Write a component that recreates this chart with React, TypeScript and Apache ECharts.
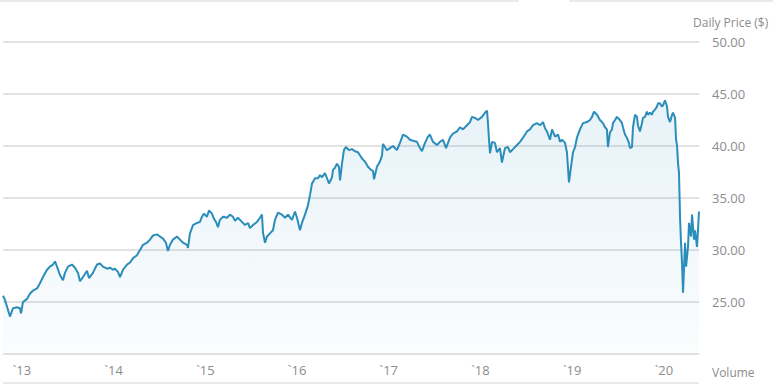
import React, { useEffect, useRef } from "react";
import * as echarts from "echarts";

// Time as decimal years
const dates = [
  2012.793, 2012.815, 2012.869, 2012.902, 2012.945, 2012.978, 2012.989, 2013.011, 2013.055, 2013.087,
  2013.120, 2013.164, 2013.196, 2013.229, 2013.273, 2013.305, 2013.338, 2013.360, 2013.382, 2013.414,
  2013.447, 2013.469, 2013.502, 2013.545, 2013.578, 2013.611, 2013.632, 2013.665, 2013.709, 2013.731,
  2013.774, 2013.818, 2013.851, 2013.883, 2013.927, 2013.960, 2013.992, 2014.014, 2014.047, 2014.069,
  2014.101, 2014.145, 2014.178, 2014.210, 2014.254, 2014.287, 2014.320, 2014.363, 2014.396, 2014.429,
  2014.472, 2014.505, 2014.538, 2014.570, 2014.592, 2014.614, 2014.647, 2014.690, 2014.723, 2014.756,
  2014.799, 2014.810, 2014.832, 2014.865, 2014.908, 2014.941, 2014.963, 2014.985, 2015.017, 2015.039,
  2015.072, 2015.094, 2015.116, 2015.137, 2015.159, 2015.192, 2015.236, 2015.268, 2015.301, 2015.323,
  2015.355, 2015.399, 2015.432, 2015.465, 2015.486, 2015.519, 2015.563, 2015.595, 2015.617, 2015.628,
  2015.650, 2015.672, 2015.704, 2015.737, 2015.759, 2015.792, 2015.835, 2015.868, 2015.901, 2015.944,
  2015.977, 2015.999, 2016.032, 2016.053, 2016.086, 2016.108, 2016.119, 2016.141, 2016.163, 2016.195,
  2016.228, 2016.250, 2016.272, 2016.304, 2016.326, 2016.348, 2016.381, 2016.392, 2016.413, 2016.435,
  2016.457, 2016.468, 2016.490, 2016.511, 2016.533, 2016.566, 2016.599, 2016.631, 2016.664, 2016.708,
  2016.740, 2016.773, 2016.806, 2016.828, 2016.839, 2016.871, 2016.904, 2016.926, 2016.937, 2016.980,
  2017.013, 2017.046, 2017.089, 2017.122, 2017.155, 2017.198, 2017.231, 2017.264, 2017.307, 2017.340,
  2017.362, 2017.395, 2017.427, 2017.449, 2017.482, 2017.526, 2017.558, 2017.591, 2017.624, 2017.646,
  2017.667, 2017.700, 2017.744, 2017.777, 2017.809, 2017.853, 2017.886, 2017.907, 2017.940, 2017.973,
  2018.016, 2018.049, 2018.071, 2018.082, 2018.093, 2018.104, 2018.126, 2018.158, 2018.180, 2018.213,
  2018.234, 2018.267, 2018.300, 2018.322, 2018.355, 2018.398, 2018.431, 2018.464, 2018.507, 2018.540,
  2018.573, 2018.616, 2018.649, 2018.682, 2018.704, 2018.725, 2018.758, 2018.780, 2018.813, 2018.846,
  2018.867, 2018.889, 2018.922, 2018.943, 2018.965, 2018.987, 2019.009, 2019.031, 2019.052, 2019.085,
  2019.118, 2019.161, 2019.194, 2019.216, 2019.238, 2019.271, 2019.303, 2019.336, 2019.358, 2019.379,
  2019.390, 2019.412, 2019.434, 2019.445, 2019.467, 2019.488, 2019.499, 2019.521, 2019.543, 2019.554,
  2019.576, 2019.597, 2019.619, 2019.630, 2019.652, 2019.663, 2019.685, 2019.707, 2019.717, 2019.739,
  2019.761, 2019.772, 2019.794, 2019.815, 2019.826, 2019.848, 2019.870, 2019.881, 2019.903, 2019.925,
  2019.936, 2019.957, 2019.979, 2019.990, 2020.012, 2020.034, 2020.045, 2020.067, 2020.089, 2020.100,
  2020.122, 2020.133, 2020.143, 2020.154, 2020.165, 2020.176, 2020.187, 2020.198, 2020.209, 2020.220,
  2020.231, 2020.242, 2020.263, 2020.274, 2020.296, 2020.307, 2020.329, 2020.340, 2020.361, 2020.372,
  2020.383,
];

const prices = [
  25.6, 25.2, 23.6, 24.4, 24.5, 24.4, 23.9, 25.0, 25.3, 25.8,
  26.1, 26.3, 26.8, 27.4, 28.1, 28.4, 28.6, 28.9, 28.4, 27.6,
  27.1, 27.8, 28.4, 28.6, 28.3, 27.8, 27.0, 27.4, 28.0, 27.3,
  27.8, 28.6, 28.7, 28.4, 28.2, 28.3, 28.1, 28.2, 27.9, 27.4,
  28.1, 28.6, 28.8, 29.2, 29.5, 30.0, 30.5, 30.7, 31.0, 31.4,
  31.5, 31.3, 31.1, 30.7, 29.9, 30.5, 31.0, 31.3, 31.0, 30.7,
  30.5, 30.2, 31.6, 32.4, 32.6, 32.7, 33.2, 33.5, 33.2, 33.8,
  33.5, 33.0, 32.7, 32.2, 32.9, 33.2, 33.1, 33.4, 33.2, 32.8,
  33.1, 32.7, 32.4, 32.6, 32.1, 32.4, 32.7, 33.1, 33.4, 31.7,
  30.7, 31.3, 31.6, 31.9, 32.9, 33.6, 33.4, 33.1, 33.4, 32.9,
  33.7, 33.1, 31.9, 32.6, 33.4, 34.0, 34.3, 35.3, 36.4, 36.9,
  36.9, 37.2, 37.0, 37.4, 36.9, 36.4, 37.0, 37.7, 37.9, 38.3,
  38.0, 36.7, 38.3, 39.6, 39.9, 39.6, 39.7, 39.5, 39.4, 38.8,
  38.5, 38.0, 37.7, 37.6, 36.8, 38.0, 38.5, 39.1, 40.2, 39.6,
  39.8, 40.0, 39.6, 40.3, 41.1, 40.9, 40.6, 40.5, 40.4, 39.8,
  39.5, 40.3, 40.9, 41.1, 40.4, 40.1, 40.4, 40.6, 39.8, 40.3,
  40.8, 41.2, 41.4, 41.8, 41.6, 42.0, 42.3, 42.8, 42.7, 42.5,
  42.8, 43.2, 43.4, 42.2, 40.6, 39.3, 40.4, 40.3, 39.4, 39.8,
  38.4, 39.8, 39.9, 39.4, 39.7, 40.1, 40.4, 40.8, 41.4, 41.6,
  42.0, 42.2, 42.0, 42.3, 41.7, 41.4, 40.6, 41.6, 40.9, 41.1,
  40.4, 40.6, 40.3, 39.4, 36.5, 38.0, 39.4, 39.9, 40.8, 41.6,
  42.2, 42.3, 42.5, 42.8, 43.3, 43.0, 42.5, 42.2, 41.8, 41.6,
  39.9, 41.3, 41.6, 42.2, 42.5, 42.8, 42.7, 42.5, 42.2, 41.8,
  41.1, 40.8, 40.3, 39.8, 39.9, 41.8, 43.0, 42.8, 42.0, 41.4,
  42.2, 42.7, 42.8, 43.3, 43.0, 43.2, 43.0, 43.3, 43.5, 43.8,
  44.1, 44.1, 43.8, 43.9, 44.4, 43.8, 42.8, 42.3, 43.0, 43.2,
  42.7, 40.6, 40.1, 38.4, 37.4, 33.2, 30.7, 28.7, 25.9, 28.4,
  30.7, 28.4, 30.3, 32.6, 31.3, 33.4, 31.0, 31.9, 30.3, 31.9,
  33.7,
];

const yearTicks = [2013, 2014, 2015, 2016, 2017, 2018, 2019, 2020];
const priceAxisTitle = "Daily Price ($)";
const volumeTitle = "Volume";

const FONT = "'Open Sans', 'Noto Sans', sans-serif";

export default function App() {
  const ref = useRef<HTMLDivElement>(null);

  useEffect(() => {
    if (!ref.current) return;
    const chart = echarts.init(ref.current, undefined, { renderer: "svg" });
    const lineColor = "#2a8dba";
    chart.setOption({
      animation: false,
      backgroundColor: "#ffffff",
      grid: { left: 3, right: 74, top: 42, bottom: 31, containLabel: false },
      xAxis: {
        type: "value",
        min: dates[0],
        max: dates[dates.length - 1],
        axisLine: { show: false },
        axisTick: { show: false },
        splitLine: { show: false },
        axisLabel: {
          customValues: yearTicks,
          formatter: (v: number) => "`" + String(Math.round(v)).slice(2),
          color: "#8c8c8c",
          fontFamily: FONT,
          fontSize: 13,
          margin: 9,
        },
      },
      yAxis: {
        type: "value",
        position: "right",
        min: 20,
        max: 50,
        interval: 5,
        axisLine: { show: false },
        axisTick: { show: false },
        splitLine: { show: true, lineStyle: { color: "#d9d9d9", width: 1.5 } },
        axisLabel: {
          formatter: (v: number) => (v === 20 ? "" : v.toFixed(2)),
          color: "#8c8c8c",
          fontFamily: FONT,
          fontSize: 13,
          margin: 13,
        },
      },
      graphic: [
        { type: "line", shape: { x1: 0, y1: 1, x2: 519, y2: 1 }, style: { stroke: "#e3e3e3", lineWidth: 1.5 } },
        { type: "line", shape: { x1: 569, y1: 1, x2: 773, y2: 1 }, style: { stroke: "#e3e3e3", lineWidth: 1.5 } },
        { type: "line", shape: { x1: 3, y1: 383, x2: 699, y2: 383 }, style: { stroke: "#e3e3e3", lineWidth: 1.5 } },
        {
          type: "text",
          x: 693,
          y: 22,
          style: { text: priceAxisTitle, fill: "#8c8c8c", font: `12px ${FONT}`, textVerticalAlign: "middle" },
        },
        {
          type: "text",
          x: 712,
          y: 372,
          style: { text: volumeTitle, fill: "#8c8c8c", font: `12px ${FONT}`, textVerticalAlign: "middle" },
        },
      ],
      series: [
        {
          type: "line",
          data: dates.map((d, i) => [d, prices[i]]),
          showSymbol: false,
          symbol: "none",
          lineStyle: { color: lineColor, width: 2 },
          areaStyle: {
            color: new echarts.graphic.LinearGradient(0, 0, 0, 1, [
              { offset: 0, color: "rgba(42,141,186,0.16)" },
              { offset: 1, color: "rgba(42,141,186,0.03)" },
            ]),
          },
        },
      ],
    });
    return () => chart.dispose();
  }, []);

  return (
    <div
      ref={ref}
      style={{ position: "fixed", left: 0, top: 0, width: 773, height: 385 }}
    />
  );
}
